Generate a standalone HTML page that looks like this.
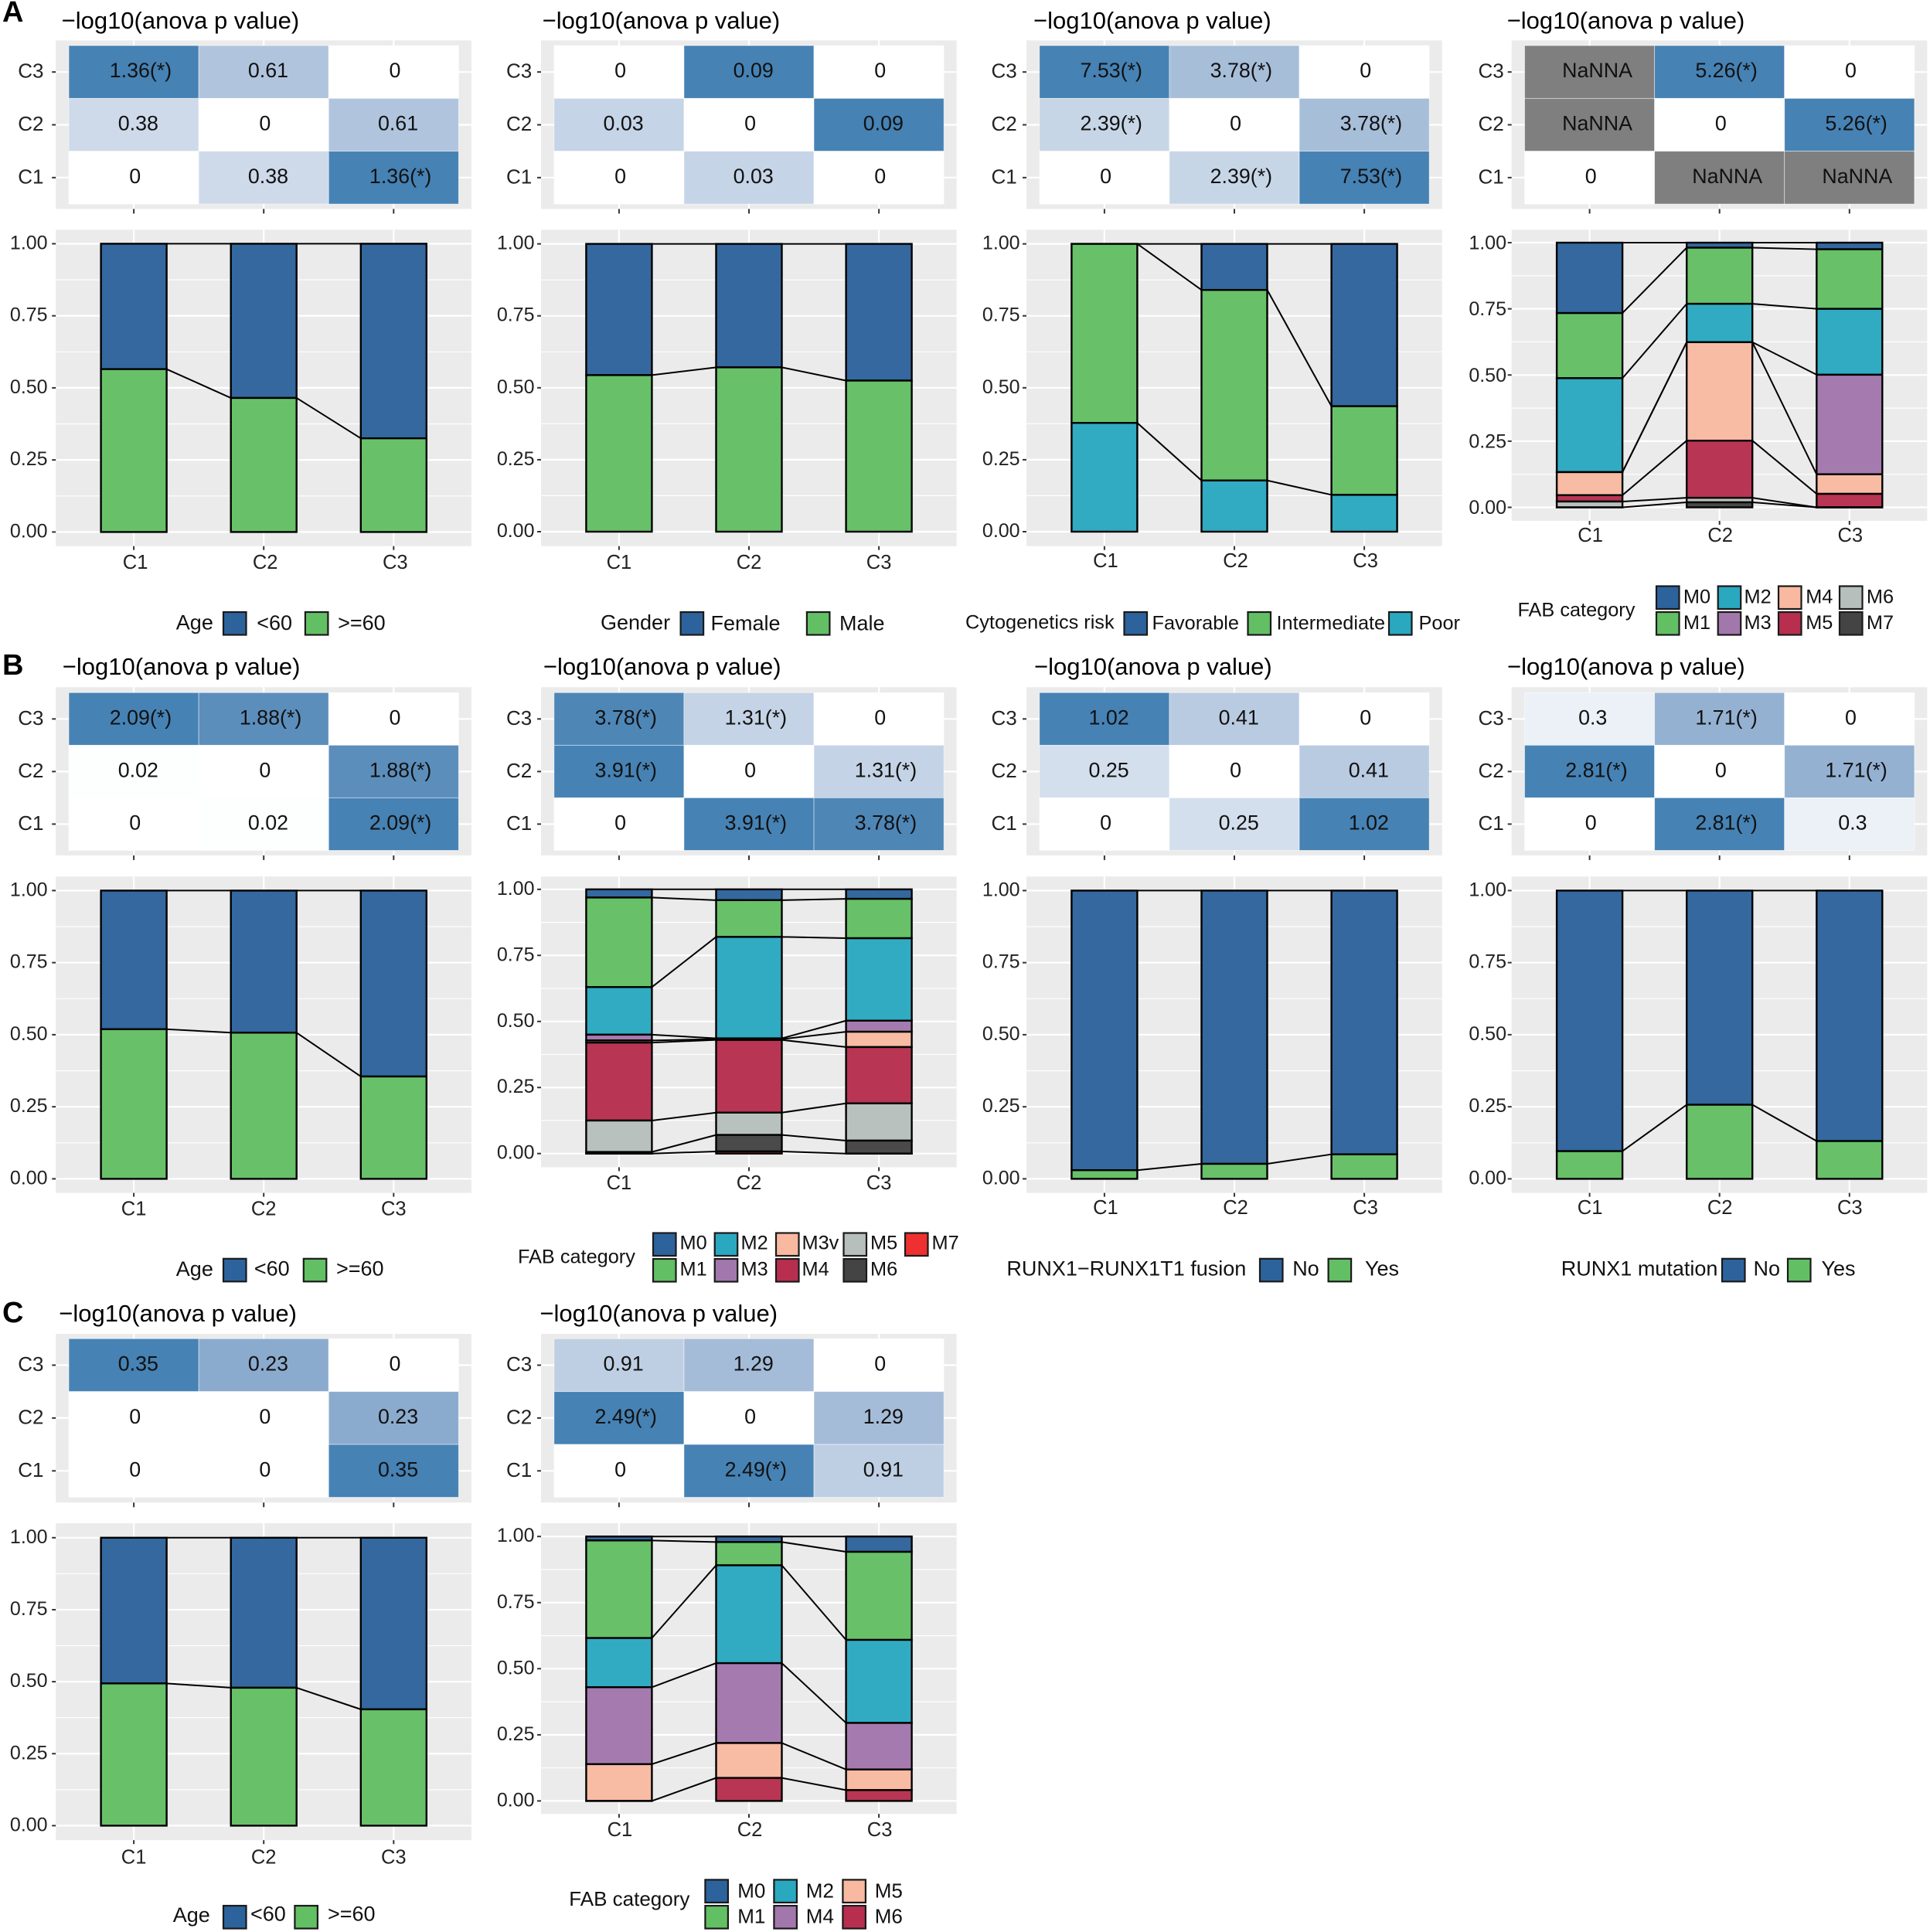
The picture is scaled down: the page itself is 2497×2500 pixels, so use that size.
<!DOCTYPE html>
<html lang="en">
<head>
<meta charset="utf-8">
<title>Cluster comparison panels</title>
<style>
html,body{margin:0;padding:0;background:#fff;}
#figure{display:block;width:2497px;height:2500px;font-family:"Liberation Sans",sans-serif;}
</style>
</head>
<body>
<svg id="figure" xmlns="http://www.w3.org/2000/svg" width="2497" height="2500" viewBox="0 0 2497 2500">
<rect width="2497" height="2500" fill="#fff"/>
<text x="3" y="28" font-size="38" font-weight="bold" fill="#000">A</text>
<text x="3" y="873" font-size="38" font-weight="bold" fill="#000">B</text>
<text x="3" y="1711" font-size="38" font-weight="bold" fill="#000">C</text>
</svg>
<script>
// ---- shared categories and ticks ----
const clusters = ['C1', 'C2', 'C3'];
const heatRowLabels = ['C3', 'C2', 'C1'];
const yTickValues = [0, 0.25, 0.5, 0.75, 1];
const yTickLabels = ['0.00', '0.25', '0.50', '0.75', '1.00'];
const yMinorValues = [0.125, 0.375, 0.625, 0.875];

// ---- pairwise heatmap values (rows C3, C2, C1; columns C1, C2, C3) ----
const heatAgeA = [['1.36(*)', '0.61', '0'], ['0.38', '0', '0.61'], ['0', '0.38', '1.36(*)']];
const heatGenderA = [['0', '0.09', '0'], ['0.03', '0', '0.09'], ['0', '0.03', '0']];
const heatCytoA = [['7.53(*)', '3.78(*)', '0'], ['2.39(*)', '0', '3.78(*)'], ['0', '2.39(*)', '7.53(*)']];
const heatFabA = [['NaNNA', '5.26(*)', '0'], ['NaNNA', '0', '5.26(*)'], ['0', 'NaNNA', 'NaNNA']];
const heatAgeB = [['2.09(*)', '1.88(*)', '0'], ['0.02', '0', '1.88(*)'], ['0', '0.02', '2.09(*)']];
const heatFabB = [['3.78(*)', '1.31(*)', '0'], ['3.91(*)', '0', '1.31(*)'], ['0', '3.91(*)', '3.78(*)']];
const heatFusionB = [['1.02', '0.41', '0'], ['0.25', '0', '0.41'], ['0', '0.25', '1.02']];
const heatMutationB = [['0.3', '1.71(*)', '0'], ['2.81(*)', '0', '1.71(*)'], ['0', '2.81(*)', '0.3']];
const heatAgeC = [['0.35', '0.23', '0'], ['0', '0', '0.23'], ['0', '0', '0.35']];
const heatFabC = [['0.91', '1.29', '0'], ['2.49(*)', '0', '1.29'], ['0', '2.49(*)', '0.91']];

// ---- stacked proportions: one row per cluster, first level on top ----
const ageLevels = ['<60', '>=60'];
const ageAProps = [[0.435, 0.565], [0.535, 0.465], [0.675, 0.325]];
const genderLevels = ['Female', 'Male'];
const genderAProps = [[0.456, 0.544], [0.429, 0.571], [0.475, 0.525]];
const cytoLevels = ['Favorable', 'Intermediate', 'Poor'];
const cytoAProps = [[0, 0.622, 0.378], [0.16, 0.662, 0.178], [0.564, 0.308, 0.128]];
const fabALevels = ['M0', 'M1', 'M2', 'M3', 'M4', 'M5', 'M6', 'M7'];
const fabAProps = [
  [0.266, 0.246, 0.355, 0, 0.087, 0.024, 0.022, 0],
  [0.019, 0.212, 0.145, 0, 0.372, 0.216, 0.017, 0.019],
  [0.025, 0.225, 0.249, 0.376, 0.074, 0.051, 0, 0]
];
const ageBProps = [[0.481, 0.519], [0.493, 0.507], [0.645, 0.355]];
const fabBLevels = ['M0', 'M1', 'M2', 'M3', 'M3v', 'M4', 'M5', 'M6', 'M7'];
const fabBProps = [
  [0.031, 0.339, 0.18, 0.022, 0.008, 0.295, 0.119, 0.006, 0],
  [0.041, 0.139, 0.384, 0.003, 0.003, 0.275, 0.0845, 0.0625, 0.008],
  [0.036, 0.149, 0.312, 0.042, 0.058, 0.213, 0.141, 0.049, 0]
];
const yesNoLevels = ['No', 'Yes'];
const fusionBProps = [[0.97, 0.03], [0.948, 0.052], [0.915, 0.085]];
const mutationBProps = [[0.904, 0.096], [0.743, 0.257], [0.869, 0.131]];
const ageCProps = [[0.506, 0.494], [0.521, 0.479], [0.596, 0.404]];
const fabCLevels = ['M0', 'M1', 'M2', 'M4', 'M5', 'M6'];
const fabCProps = [
  [0.015, 0.369, 0.186, 0.291, 0.139, 0],
  [0.021, 0.088, 0.37, 0.302, 0.132, 0.087],
  [0.058, 0.333, 0.314, 0.176, 0.078, 0.041]
];

// ---- colours ----
const BLUE = '#2D639C', GREEN = '#63BF63', TEAL = '#2AA8C0', PURPLE = '#A277AC', SALMON = '#F8B9A0',
      RED = '#B72E4E', GREY = '#B7BFBD', DARK = '#444444', BRIGHT = '#EE3030';

const svg = document.getElementById('figure');
const NS = 'http://www.w3.org/2000/svg';
const PANEL_W = 537.7;
const CELL_W = 168.1;
const FIRST_CENTER = 100.9;
const BAR_W = 85;

function make(tag, attrs, text) {
  const node = document.createElementNS(NS, tag);
  for (const k in attrs) node.setAttribute(k, attrs[k]);
  if (text !== undefined) node.textContent = text;
  svg.appendChild(node);
  return node;
}

// CIE Lab interpolation between white and steelblue, as ggplot gradients do.
function srgbToLab(c) {
  const f = c.map(v => { v /= 255; return v > 0.04045 ? Math.pow((v + 0.055) / 1.055, 2.4) : v / 12.92; });
  const X = (0.4124 * f[0] + 0.3576 * f[1] + 0.1805 * f[2]) / 0.95047;
  const Y = 0.2126 * f[0] + 0.7152 * f[1] + 0.0722 * f[2];
  const Z = (0.0193 * f[0] + 0.1192 * f[1] + 0.9505 * f[2]) / 1.08883;
  const g = t => t > 0.008856 ? Math.cbrt(t) : 7.787 * t + 16 / 116;
  return [116 * g(Y) - 16, 500 * (g(X) - g(Y)), 200 * (g(Y) - g(Z))];
}
function labToCss(l) {
  const fy = (l[0] + 16) / 116, fx = l[1] / 500 + fy, fz = fy - l[2] / 200;
  const h = t => t * t * t > 0.008856 ? t * t * t : (t - 16 / 116) / 7.787;
  const X = h(fx) * 0.95047, Y = h(fy), Z = h(fz) * 1.08883;
  const lin = [3.2406 * X - 1.5372 * Y - 0.4986 * Z, -0.9689 * X + 1.8758 * Y + 0.0415 * Z, 0.0557 * X - 0.204 * Y + 1.057 * Z];
  const out = lin.map(v => {
    v = Math.max(0, Math.min(1, v));
    return Math.round(255 * (v > 0.0031308 ? 1.055 * Math.pow(v, 1 / 2.4) - 0.055 : 12.92 * v));
  });
  return 'rgb(' + out.join(',') + ')';
}
const LOW_LAB = srgbToLab([255, 255, 255]);
const HIGH_LAB = srgbToLab([70, 130, 180]);
function heatColor(t) {
  return labToCss(LOW_LAB.map((v, i) => v + (HIGH_LAB[i] - v) * t));
}

function drawTitle(x, y) {
  const el = make('text', { x: x, y: y, 'font-size': 31, fill: '#000' }, '\u2212log10(anova p value)');
  
  
}

function drawHeat(labels, px, g, labelX) {
  const bg = make('rect', { x: px, y: g.heatTop, width: PANEL_W, height: g.heatBottom - g.heatTop, fill: '#EBEBEB' });
  
  
  const cellH = (g.cellBottom - g.cellTop) / 3;
  const xCenter = i => px + FIRST_CENTER + CELL_W * i;
  const yCenter = r => g.cellTop + cellH * (r + 0.5);
  clusters.forEach((c, i) => {
    const gv = make('line', { x1: xCenter(i), x2: xCenter(i), y1: g.heatTop, y2: g.heatBottom, stroke: '#fff', 'stroke-width': 2.2 });
    
    
    const tick = make('line', { x1: xCenter(i), x2: xCenter(i), y1: g.heatBottom, y2: g.heatBottom + 6, stroke: '#333', 'stroke-width': 2 });
    
    
  });
  heatRowLabels.forEach((r, j) => {
    const gh = make('line', { x1: px, x2: px + PANEL_W, y1: yCenter(j), y2: yCenter(j), stroke: '#fff', 'stroke-width': 2.2 });
    
    
    const tick = make('line', { x1: px - 5, x2: px, y1: yCenter(j), y2: yCenter(j), stroke: '#333', 'stroke-width': 2 });
    
    
    const lab = make('text', { x: labelX - 0.5, y: yCenter(j) + 7.5, 'font-size': 26, fill: '#222' }, r);
    
    
  });
  const nums = labels.flat().map(parseFloat).filter(v => !isNaN(v));
  const maxVal = Math.max.apply(null, nums);
  labels.forEach((row, j) => {
    row.forEach((label, i) => {
      const v = parseFloat(label);
      const fill = isNaN(v) ? '#7F7F7F' : heatColor(v / maxVal);
      const cell = make('rect', {
        x: xCenter(i) - CELL_W / 2, y: yCenter(j) - cellH / 2, width: CELL_W, height: cellH,
        fill: fill, stroke: '#fff', 'stroke-width': 0.8, 'stroke-opacity': 0.6
      });
      
      
    });
  });
  labels.forEach((row, j) => {
    row.forEach((label, i) => {
      const t = make('text', { x: xCenter(i), y: yCenter(j) + 7, 'font-size': 26.8, fill: '#111', 'text-anchor': 'middle' }, label);
      
      
      t.setAttribute('dx', (0.11 * t.getComputedTextLength()).toFixed(2));
    });
  });
}

function drawBars(props, colors, px, g, tickRight, xLabelDx) {
  const y = v => g.y0 + (g.y1 - g.y0) * v;
  const x = i => px + FIRST_CENTER + CELL_W * i;
  const labelDy = g.tickLabelDy === undefined ? 7 : g.tickLabelDy;
  const bg = make('rect', { x: px, y: g.barTop, width: PANEL_W, height: g.barBottom - g.barTop, fill: '#EBEBEB' });
  
  
  yMinorValues.forEach(v => {
    const m = make('line', { x1: px, x2: px + PANEL_W, y1: y(v), y2: y(v), stroke: '#fff', 'stroke-width': 1.1 });
    
    
  });
  yTickValues.forEach((v, k) => {
    const m = make('line', { x1: px, x2: px + PANEL_W, y1: y(v), y2: y(v), stroke: '#fff', 'stroke-width': 2.2 });
    
    
    const tick = make('line', { x1: px - 5, x2: px, y1: y(v), y2: y(v), stroke: '#333', 'stroke-width': 2 });
    
    
    const lab = make('text', { x: tickRight, y: y(v) + labelDy, 'font-size': 25, fill: '#222', 'text-anchor': 'end' }, yTickLabels[k]);
    
    
  });
  clusters.forEach((c, i) => {
    const m = make('line', { x1: x(i), x2: x(i), y1: g.barTop, y2: g.barBottom, stroke: '#fff', 'stroke-width': 2.2 });
    
    
    const tick = make('line', { x1: x(i), x2: x(i), y1: g.barBottom, y2: g.barBottom + 5, stroke: '#333', 'stroke-width': 2 });
    
    
    const lab = make('text', { x: x(i) + xLabelDx, y: g.xLabelY, 'font-size': 25.5, fill: '#222', 'text-anchor': 'middle' }, c);
    
    
  });
  const tops = props.map(row => {
    let acc = 0;
    return row.map(v => { const t = 1 - acc; acc += v; return Math.max(0, t); });
  });
  props.forEach((row, i) => {
    row.forEach((v, s) => {
      const top = y(tops[i][s]);
      const bottom = y(Math.max(0, tops[i][s] - v));
      const seg = make('rect', {
        x: x(i) - BAR_W / 2, y: top, width: BAR_W, height: Math.max(bottom - top, 0.01),
        fill: colors[s], 'fill-opacity': 0.97, stroke: '#000', 'stroke-width': 2.4
      });
      
      
    });
  });
  for (let i = 0; i < props.length - 1; i++) {
    props[i].forEach((v, s) => {
      const link = make('line', {
        x1: x(i) + BAR_W / 2, y1: y(tops[i][s]), x2: x(i + 1) - BAR_W / 2, y2: y(tops[i + 1][s]),
        stroke: '#000', 'stroke-width': 2
      });
      
      
    });
  }
}

function drawLegend(title, titleX, titleY, levels, colors, keys, fontSize) {
  const size = fontSize || 25.3;
  const t = make('text', { x: titleX, y: titleY - 1.3, 'font-size': size, fill: '#111' }, title);
  
  
  levels.forEach((lv, i) => {
    const k = keys[i];
    const key = make('rect', { x: k[0] + 1, y: k[1] + 1, width: 29.5, height: 29.5, fill: colors[i], stroke: '#1a1a1a', 'stroke-width': 2.2 });
    
    
    const label = make('text', { x: k[2] - 0.5, y: k[3] - 1.3, 'font-size': size, fill: '#111' }, lv);
    
    
  });
}

// ---- layout ----
const COL = [72.2, 700, 1328, 1955.7];
const HEAT_LABEL_X = [23.7, 655.5, 1283, 1913];
const TICK_RIGHT = [61.6, 691.5, 1319.6, 1949];
const LARGE_LEGEND = 27;
const rowA = { heatTop: 52.3, heatBottom: 270.4, cellTop: 59, cellBottom: 264 };
const rowB = { heatTop: 889.3, heatBottom: 1106.9, cellTop: 896.3, cellBottom: 1100.4 };
const rowC = { heatTop: 1726, heatBottom: 1944.3, cellTop: 1732.3, cellBottom: 1937.5 };

// Row A
drawTitle(79.6, 37);
drawHeat(heatAgeA, COL[0], rowA, HEAT_LABEL_X[0]);
drawBars(ageAProps, [BLUE, GREEN], COL[0], { barTop: 297.3, barBottom: 706.7, y1: 315.4, y0: 688.4, xLabelY: 736 }, TICK_RIGHT[0], 2);
drawLegend('Age', 227.8, 816, ageLevels, [BLUE, GREEN], [[288, 791, 332.7, 816.5], [393.9, 791, 437.6, 816.5]], LARGE_LEGEND);

drawTitle(701.6, 37);
drawHeat(heatGenderA, COL[1], rowA, HEAT_LABEL_X[1]);
drawBars(genderAProps, [BLUE, GREEN], COL[1], { barTop: 297.3, barBottom: 706.7, y1: 315.6, y0: 688, xLabelY: 736 }, TICK_RIGHT[1], 0);
drawLegend('Gender', 777, 815.6, genderLevels, [BLUE, GREEN], [[879.6, 791, 920, 817], [1042.9, 791, 1086.5, 817]], LARGE_LEGEND);

drawTitle(1337, 37);
drawHeat(heatCytoA, COL[2], rowA, HEAT_LABEL_X[2]);
drawBars(cytoAProps, [BLUE, GREEN, TEAL], COL[2], { barTop: 297.3, barBottom: 706.7, y1: 315.6, y0: 688, xLabelY: 734 }, TICK_RIGHT[2], 1.5);
drawLegend('Cytogenetics risk', 1249, 814.6, cytoLevels, [BLUE, GREEN, TEAL], [[1453.5, 791, 1491, 816], [1613.5, 791, 1652, 816], [1796, 791, 1836, 816]]);

drawTitle(1949.7, 37);
drawHeat(heatFabA, COL[3], rowA, HEAT_LABEL_X[3]);
drawBars(fabAProps, [BLUE, GREEN, TEAL, PURPLE, SALMON, RED, GREY, DARK], COL[3], { barTop: 297.3, barBottom: 674, y1: 314, y0: 656.5, xLabelY: 701, tickLabelDy: 8.5 }, TICK_RIGHT[3], 1);
drawLegend('FAB category', 1963.5, 799, fabALevels, [BLUE, GREEN, TEAL, PURPLE, SALMON, RED, GREY, DARK], [
  [2142, 757.5, 2178.4, 782], [2142, 791, 2178.4, 815.5],
  [2221.7, 757.5, 2257, 782], [2221.7, 791, 2257, 815.5],
  [2300, 757.5, 2336.7, 782], [2300, 791, 2336.7, 815.5],
  [2379, 757.5, 2415.4, 782], [2379, 791, 2415.4, 815.5]
]);

// Row B
drawTitle(80.8, 873);
drawHeat(heatAgeB, COL[0], rowB, HEAT_LABEL_X[0]);
drawBars(ageBProps, [BLUE, GREEN], COL[0], { barTop: 1134.2, barBottom: 1543.6, y1: 1152.4, y0: 1525.4, xLabelY: 1572.5 }, TICK_RIGHT[0], 0);
drawLegend('Age', 227.8, 1652.4, ageLevels, [BLUE, GREEN], [[288, 1627.8, 329.4, 1652], [391.8, 1627.8, 435.5, 1652]], LARGE_LEGEND);

drawTitle(702.9, 873);
drawHeat(heatFabB, COL[1], rowB, HEAT_LABEL_X[1]);
drawBars(fabBProps, [BLUE, GREEN, TEAL, PURPLE, SALMON, RED, GREY, DARK, BRIGHT], COL[1], { barTop: 1134.2, barBottom: 1510.4, y1: 1150.8, y0: 1492.7, xLabelY: 1539 }, TICK_RIGHT[1], 0);
drawLegend('FAB category', 670, 1635.8, fabBLevels, [BLUE, GREEN, TEAL, PURPLE, SALMON, RED, GREY, DARK, BRIGHT], [
  [844, 1594.5, 880, 1618], [844, 1628, 880, 1652],
  [923.7, 1594.5, 959, 1618], [923.7, 1628, 959, 1652],
  [1003, 1594.5, 1038, 1618], [1003, 1628, 1038, 1652],
  [1090.5, 1594.5, 1126.5, 1618], [1090.5, 1628, 1126.5, 1652],
  [1170, 1594.5, 1206, 1618]
]);

drawTitle(1338, 873);
drawHeat(heatFusionB, COL[2], rowB, HEAT_LABEL_X[2]);
drawBars(fusionBProps, [BLUE, GREEN], COL[2], { barTop: 1134.2, barBottom: 1543.6, y1: 1152.4, y0: 1525.4, xLabelY: 1571 }, TICK_RIGHT[2], 1.5);
drawLegend('RUNX1\u2212RUNX1T1 fusion', 1302.4, 1652, yesNoLevels, [BLUE, GREEN], [[1629, 1627.8, 1672.7, 1652], [1717.6, 1627.8, 1766.5, 1652]], LARGE_LEGEND);

drawTitle(1950, 873);
drawHeat(heatMutationB, COL[3], rowB, HEAT_LABEL_X[3]);
drawBars(mutationBProps, [BLUE, GREEN], COL[3], { barTop: 1134.2, barBottom: 1543.6, y1: 1152.4, y0: 1525.4, xLabelY: 1571 }, TICK_RIGHT[3], 0.5);
drawLegend('RUNX1 mutation', 2019.8, 1652, yesNoLevels, [BLUE, GREEN], [[2227, 1627.8, 2269, 1652], [2312, 1627.8, 2357, 1652]], LARGE_LEGEND);

// Row C
drawTitle(76.3, 1710);
drawHeat(heatAgeC, COL[0], rowC, HEAT_LABEL_X[0]);
drawBars(ageCProps, [BLUE, GREEN], COL[0], { barTop: 1971, barBottom: 2381.2, y1: 1989.8, y0: 2362.4, xLabelY: 2411.7 }, TICK_RIGHT[0], 0);
drawLegend('Age', 223.7, 2488.5, ageLevels, [BLUE, GREEN], [[288, 2465, 324.5, 2487], [380.4, 2465, 424.5, 2487]], LARGE_LEGEND);

drawTitle(698.4, 1710);
drawHeat(heatFabC, COL[1], rowC, HEAT_LABEL_X[1]);
drawBars(fabCProps, [BLUE, GREEN, TEAL, PURPLE, SALMON, RED], COL[1], { barTop: 1971, barBottom: 2347.2, y1: 1988.2, y0: 2330.4, xLabelY: 2376 }, TICK_RIGHT[1], 1);
drawLegend('FAB category', 736.3, 2467.5, fabCLevels, [BLUE, GREEN, TEAL, PURPLE, SALMON, RED], [
  [911.4, 2431.4, 954.7, 2457], [911.4, 2465, 954.7, 2490],
  [1000.4, 2431.4, 1043.3, 2457], [1000.4, 2465, 1043.3, 2490],
  [1089.4, 2431.4, 1132.2, 2457], [1089.4, 2465, 1132.2, 2490]
], 26);
</script>
</body>
</html>
